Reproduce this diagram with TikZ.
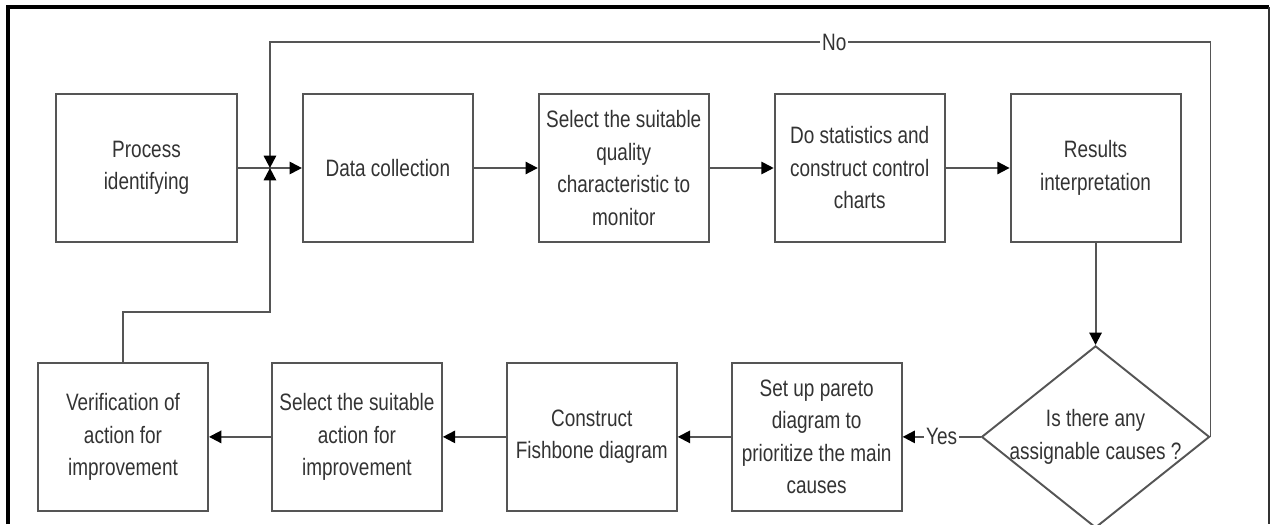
\documentclass[tikz,border=0pt]{standalone}
\usepackage{fontspec}
\setmainfont{Liberation Sans}[FakeStretch=0.8]
\usepackage{tikz}
\usetikzlibrary{positioning, shapes.geometric, arrows.meta, calc}
\definecolor{linegray}{HTML}{555555}
\definecolor{textgray}{HTML}{333333}

\begin{document}
\begin{tikzpicture} [x=0.02cm, y=-0.02cm, ->, >={Triangle[length=7pt,width=7pt,color=black]},
	line width=1.1pt, draw=linegray,
	every node/.style={font=\fontsize{13.5}{18.5}\selectfont, text=textgray},
	box/.style={draw=linegray, rectangle, minimum width=3.4cm, minimum height=2.96cm,
		align=center, inner sep=0pt},
	decision/.style={draw=linegray, diamond, aspect=1.25, minimum width=4.56cm,
		minimum height=3.64cm, align=center, inner xsep=0pt, inner ysep=-3.5pt}]
	\useasboundingbox (0,0) rectangle (1270,524);
	\draw[-, black, line width=2pt] (8,524) -- (8,7) -- (1269,7);
	\draw[-, black!80, line width=0.6pt] (1269,7) -- (1269,524);
	
	\node[box, minimum width=3.62cm] (pi) at (146.5,168) {Process\\identifying};
	\node[box, right=1.28cm of pi] (dc) {Data collection};
	\node[box, right=1.28cm of dc] (sq) {Select the suitable\\quality\\characteristic to\\monitor};
	\node[box, right=1.28cm of sq] (st) {Do statistics and\\construct control\\charts};
	\node[box, right=1.28cm of st] (ri) {Results\\interpretation};
	\node[decision, below=2.04cm of ri] (dia) {Is there any\\assignable causes ?};
	\node[box, left=1.56cm of dia] (pd) {Set up pareto\\diagram to\\prioritize the main\\causes};
	\node[box, left=1.06cm of pd] (fb) {Construct\\Fishbone diagram};
	\node[box, left=1.26cm of fb] (sa) {Select the suitable\\action for\\improvement};
	\node[box, left=1.24cm of sa] (vi) {Verification of\\action for\\improvement};
	
	\coordinate (j) at ($(pi.east)!0.5!(dc.west)$);
	\coordinate (nocorner) at ($(j)+(0,-126)$);
	\coordinate (vcorner) at ($(j)+(0,144)$);
	
	\draw (pi) -- (dc);
	\draw (dc) -- (sq);
	\draw (sq) -- (st);
	\draw (st) -- (ri);
	\draw (ri) -- (dia);
	\draw (dia) -- node[fill=white, inner sep=1pt]{Yes} (pd);
	\draw (pd) -- (fb);
	\draw (fb) -- (sa);
	\draw (sa) -- (vi);
	\draw (dia.east) |- node[pos=0.7, fill=white, inner sep=1pt]{No} (nocorner) -- (j);
	\draw (vi.north) |- (vcorner) -- (j);
\end{tikzpicture}
\end{document}
